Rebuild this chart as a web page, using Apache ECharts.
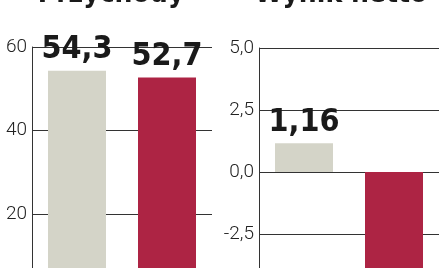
<!DOCTYPE html>
<html><head><meta charset="utf-8">
<script src="https://cdn.jsdelivr.net/npm/echarts@6/dist/echarts.min.js"></script>
<style>html,body{margin:0;padding:0;background:#fff}#c{width:439px;height:268px}</style>
</head><body><div id="c"></div>
<script>
const titles = ["Przychody", "Wynik netto"];
const categories = ["2009", "2010"];
const revenue = [54.3, 52.7];
const netResult = [1.16, -4.9];
const revenueTicks = {min: 0, max: 60, interval: 20};
const netTicks = {min: -5, max: 5, interval: 2.5};
const colors = ["#d4d4c8", "#ad2444"];

const fmt = v => String(v).replace('.', ',');
const fmt1 = v => v.toFixed(1).replace('.', ',');

const chart = echarts.init(document.getElementById('c'), null, {renderer: 'canvas'});
const lineColor = '#333';
const condFam = '"DejaVu Sans Condensed", "DejaVu Sans", sans-serif';
const labelFont = {fontFamily: 'Roboto', fontWeight: 300, fontSize: 19, color: '#222'};
function yAx(idx, ticks, f) {
  return {
    gridIndex: idx, type: 'value', min: ticks.min, max: ticks.max, interval: ticks.interval,
    axisLine: {show: true, lineStyle: {color: lineColor, width: 1}},
    axisTick: {show: false},
    splitLine: {show: true, lineStyle: {color: lineColor, width: 1}},
    axisLabel: Object.assign({formatter: f, margin: 5, padding: [0, 0, 6, 0]}, labelFont)
  };
}
function mkData(vals) {
  return vals.map((v, i) => ({value: v, itemStyle: {color: colors[i]},
    label: {position: v >= 0 ? 'top' : 'bottom'}}));
}
const valLabel = {show: true, fontFamily: condFam, fontWeight: 'bold', fontSize: 32, color: '#1a1a1a', distance: 5};
chart.setOption({
  animation: false,
  grid: [
    {left: 32, width: 180, top: 47, height: 251, outerBoundsMode: 'none', containLabel: false},
    {left: 259, width: 180, top: 48, height: 248, outerBoundsMode: 'none', containLabel: false}
  ],
  xAxis: [
    {gridIndex: 0, type: 'category', data: categories, show: false},
    {gridIndex: 1, type: 'category', data: categories, show: false}
  ],
  yAxis: [yAx(0, revenueTicks, v => String(v)), yAx(1, netTicks, fmt1)],
  graphic: [
    {type: 'text', x: 111, y: 9, style: {text: titles[0], font: 'bold 28px ' + condFam, fill: '#1a1a1a', align: 'center', verticalAlign: 'bottom'}},
    {type: 'text', x: 341, y: 9, style: {text: titles[1], font: 'bold 28px ' + condFam, fill: '#1a1a1a', align: 'center', verticalAlign: 'bottom'}}
  ],
  series: [
    {type: 'bar', xAxisIndex: 0, yAxisIndex: 0, data: mkData(revenue), barWidth: 58,
      label: Object.assign({formatter: p => fmt(p.value)}, valLabel)},
    {type: 'bar', xAxisIndex: 1, yAxisIndex: 1, data: mkData(netResult), barWidth: 58,
      label: Object.assign({formatter: p => fmt(p.value)}, valLabel)}
  ]
});
</script></body></html>
